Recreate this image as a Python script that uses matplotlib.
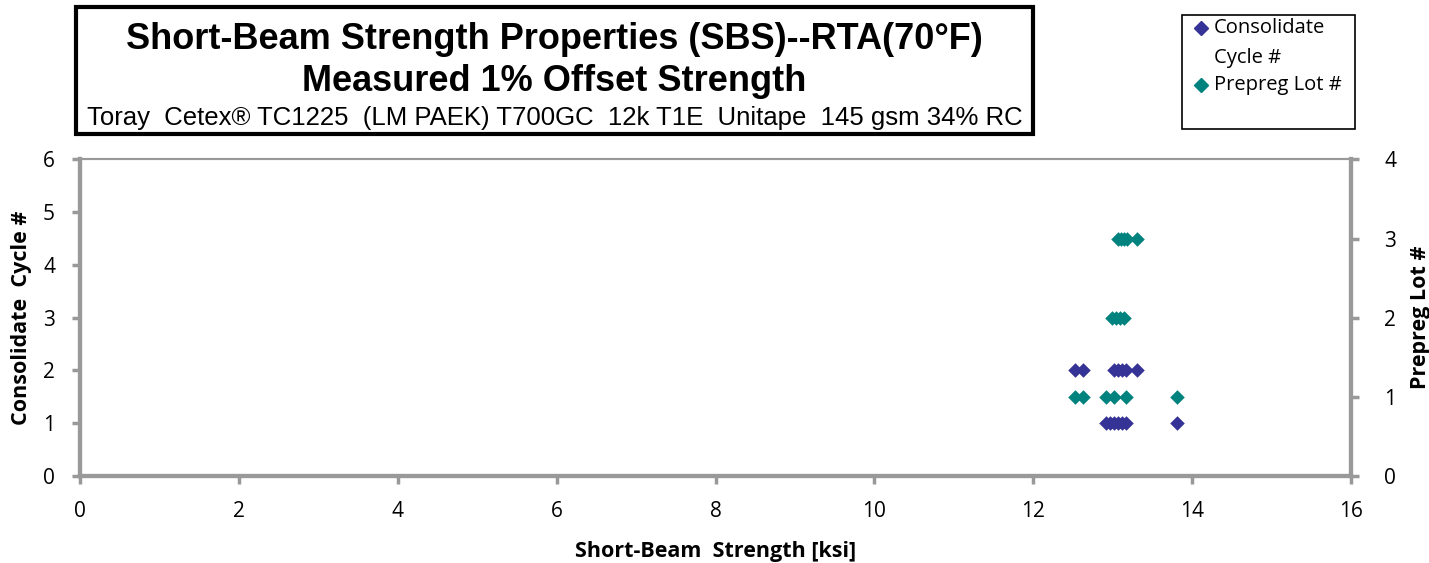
import numpy as np
import matplotlib.pyplot as plt
from matplotlib.patches import Rectangle

# data
cycle1_sbs = [12.92, 12.97, 13.02, 13.07, 13.12, 13.17, 13.81]
cycle1_val = [1, 1, 1, 1, 1, 1, 1]
cycle2_sbs = [12.52, 12.62, 13.01, 13.06, 13.11, 13.16, 13.30]
cycle2_val = [2, 2, 2, 2, 2, 2, 2]

lot_sbs = [12.52, 12.62, 12.92, 13.02, 13.17, 13.81,
           12.99, 13.04, 13.09, 13.14,
           13.06, 13.10, 13.14, 13.18, 13.30]
lot_val = [1, 1, 1, 1, 1, 1,
           2, 2, 2, 2,
           3, 3, 3, 3, 3]

cons_x = cycle1_sbs + cycle2_sbs
cons_y = cycle1_val + cycle2_val

blue = "#363396"
teal = "#00827f"
grey = "#999999"
label_font = ["Open Sans", "DejaVu Sans"]
title_font = ["Liberation Sans Narrow", "Liberation Sans", "DejaVu Sans"]

fig = plt.figure(figsize=(14.29, 5.63), dpi=100)
ax = fig.add_axes([0.056, 0.1545, 0.8895, 0.5625])
ax2 = ax.twinx()

ax.scatter(cons_x, cons_y, marker="D", s=55, color=blue, zorder=3,
           linewidths=0)
ax2.scatter(lot_sbs, lot_val, marker="D", s=55, color=teal, zorder=3,
            linewidths=0)

ax.set_xlim(0, 16)
ax.set_ylim(0, 6)
ax2.set_ylim(0, 4)
ax.set_xticks(range(0, 17, 2))
ax.set_yticks(range(0, 7))
ax2.set_yticks(range(0, 5))

for a in (ax, ax2):
    for s in ("left", "bottom", "right"):
        a.spines[s].set_color(grey)
        a.spines[s].set_linewidth(3)
    a.spines["top"].set_color(grey)
    a.spines["top"].set_linewidth(1.5)
    a.tick_params(colors=grey, width=2.5, length=6, labelsize=15,
                  labelcolor="black")
for lab in ax.get_xticklabels() + ax.get_yticklabels() + ax2.get_yticklabels():
    lab.set_family(label_font)
ax.tick_params(axis="x", pad=12)
ax.tick_params(axis="y", pad=12)
ax2.tick_params(axis="y", pad=18)

ax.set_xlabel("Short-Beam  Strength [ksi]", fontsize=15.5, fontweight="bold",
              family=label_font, labelpad=14)
ax.set_ylabel("Consolidate  Cycle #", fontsize=15.5, fontweight="bold",
              family=label_font, labelpad=8)
ax2.set_ylabel("Prepreg Lot #", fontsize=15.5, fontweight="bold",
               family=label_font, labelpad=10)

# title box
fig.patches.append(Rectangle((0.0535, 0.762), 0.6695, 0.226, transform=fig.transFigure,
                             fill=False, edgecolor="black", linewidth=3))
fig.text(0.388, 0.913, "Short-Beam Strength Properties (SBS)--RTA(70°F)",
         ha="center", va="baseline", fontsize=26, fontweight="bold",
         family=title_font)
fig.text(0.388, 0.8384, "Measured 1% Offset Strength", ha="center",
         va="baseline", fontsize=26, fontweight="bold", family=title_font)
fig.text(0.388, 0.778, "Toray  Cetex® TC1225  (LM PAEK) T700GC  12k T1E  Unitape  145 gsm 34% RC",
         ha="center", va="baseline", fontsize=18.5, family=title_font)

# legend box
fig.patches.append(Rectangle((0.827, 0.77), 0.121, 0.204, transform=fig.transFigure,
                             fill=False, edgecolor="black", linewidth=1.2))
fig.lines.append(plt.Line2D([0.8405], [0.950], marker="D", color=blue,
                            markersize=7, transform=fig.transFigure))
fig.text(0.8495, 0.950, "Consolidate", va="center", fontsize=14.5, family=label_font)
fig.text(0.8495, 0.897, "Cycle #", va="center", fontsize=14.5, family=label_font)
fig.lines.append(plt.Line2D([0.8405], [0.849], marker="D", color=teal,
                            markersize=7, transform=fig.transFigure))
fig.text(0.8495, 0.849, "Prepreg Lot #", va="center", fontsize=14.5, family=label_font)

fig.savefig("out.png", dpi=100)
